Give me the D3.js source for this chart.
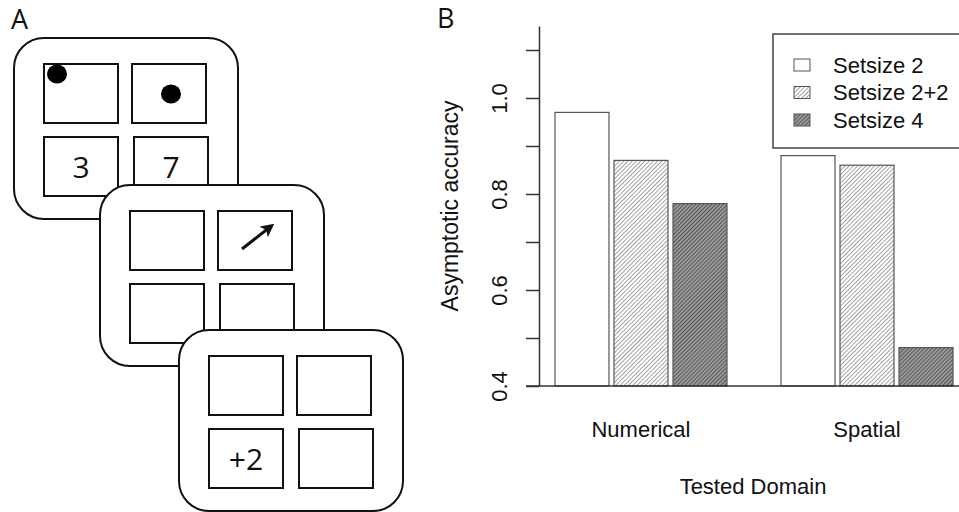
<!DOCTYPE html>
<html>
<head>
<meta charset="utf-8">
<script src="https://cdn.jsdelivr.net/npm/d3@7"></script>
<style>
  html, body { margin: 0; padding: 0; background: #fff; }
  svg { display: block; }
</style>
</head>
<body>
<svg id="chart" width="959" height="512"></svg>
<script>
// ---------- Panel B data ----------
const categories = ["Numerical", "Spatial"];
const seriesNames = ["Setsize 2", "Setsize 2+2", "Setsize 4"];
const numericalValues = [0.97, 0.87, 0.78];
const spatialValues = [0.88, 0.86, 0.48];
const yTickValues = [0.4, 0.5, 0.6, 0.7, 0.8, 0.9, 1.0, 1.1];
const yTickLabels = ["0.4", "", "0.6", "", "0.8", "", "1.0", ""];
const xTitle = "Tested Domain";
const yTitle = "Asymptotic accuracy";

// ---------- Panel A schematic ----------
const cardOrigins = [[14, 38], [100, 185], [179, 330]];
const cellCols = [30, 118];
const cellRows = [26, 99];
const cellTexts = [
  [null, null, "3", "7"],
  [null, null, null, null],
  [null, null, "+2", null]
];
const cardDots = [[[43, 36], [157, 56]], [], []];   // relative to card
const cardArrows = [[], [[142, 64, 170, 42]], []];

const svg = d3.select("#chart");
const sansB = "'Liberation Sans', Arial, Helvetica, sans-serif";
const sansA = "'Open Sans', 'Noto Sans', sans-serif";
const fsB = 22;

// ----- Panel A -----
svg.append("text").attr("x", 11).attr("y", 29).text("A")
  .attr("font-family", sansA).attr("font-size", 27).attr("fill", "#111");

svg.append("defs").append("marker")
  .attr("id", "arrowhead").attr("viewBox", "0 0 10 10")
  .attr("refX", 6).attr("refY", 5)
  .attr("markerWidth", 4.5).attr("markerHeight", 4.5)
  .attr("orient", "auto")
  .append("path").attr("d", "M0,0 L10,5 L0,10 L2.5,5 Z").attr("fill", "#111");

const cards = svg.append("g").selectAll("g.card")
  .data(cardOrigins).join("g")
  .attr("class", "card")
  .attr("transform", d => `translate(${d[0]},${d[1]})`);

cards.append("rect")
  .attr("width", 224).attr("height", 181).attr("rx", 30).attr("ry", 30)
  .attr("fill", "#fff").attr("stroke", "#111").attr("stroke-width", 2);

cards.each(function(origin, ci) {
  const g = d3.select(this);
  const cells = [];
  cellRows.forEach((ry, r) => cellCols.forEach((cx, c) => {
    cells.push({x: cx + (r === 1 && c === 1 ? 2 : 0), y: ry, t: cellTexts[ci][r * 2 + c]});
  }));
  g.selectAll("rect.cell").data(cells).join("rect")
    .attr("class", "cell")
    .attr("x", d => d.x).attr("y", d => d.y)
    .attr("width", 74).attr("height", 59)
    .attr("fill", "#fff").attr("stroke", "#111").attr("stroke-width", 2);
  g.selectAll("text.cell").data(cells.filter(d => d.t)).join("text")
    .attr("class", "cell")
    .attr("x", d => d.x + 37).attr("y", d => d.y + 40.5)
    .attr("text-anchor", "middle")
    .attr("font-family", sansA).attr("font-size", 30).attr("fill", "#111")
    .text(d => d.t);
  g.selectAll("ellipse").data(cardDots[ci]).join("ellipse")
    .attr("cx", d => d[0]).attr("cy", d => d[1])
    .attr("rx", 10).attr("ry", 9.5).attr("fill", "#000");
  g.selectAll("line.arrow").data(cardArrows[ci]).join("line")
    .attr("class", "arrow")
    .attr("x1", d => d[0]).attr("y1", d => d[1])
    .attr("x2", d => d[2]).attr("y2", d => d[3])
    .attr("stroke", "#111").attr("stroke-width", 3)
    .attr("marker-end", "url(#arrowhead)");
});

// ----- Panel B -----
svg.append("text").attr("x", 437).attr("y", 28).text("B")
  .attr("font-family", sansA).attr("font-size", 27).attr("fill", "#111");

const defs = svg.select("defs");
function hatch(id, bg, stroke, spacing, sw) {
  const p = defs.append("pattern").attr("id", id)
    .attr("patternUnits", "userSpaceOnUse")
    .attr("width", spacing).attr("height", spacing)
    .attr("patternTransform", "rotate(45)");
  p.append("rect").attr("width", spacing).attr("height", spacing).attr("fill", bg);
  p.append("line").attr("x1", 0).attr("y1", 0).attr("x2", 0).attr("y2", spacing)
    .attr("stroke", stroke).attr("stroke-width", sw);
}
hatch("hatchLight", "#fff", "#555", 3.0, 1.1);
hatch("hatchDark", "#9a9a9a", "#333", 2.8, 1.3);
const fills = ["#fff", "url(#hatchLight)", "url(#hatchDark)"];

const y = d3.scaleLinear().domain([0.4, 1.15]).range([386, 26]);
const x0 = d3.scaleBand().domain(categories).range([555, 953])
  .paddingInner(0.239).paddingOuter(0);
const x1 = d3.scaleBand().domain(seriesNames).range([0, x0.bandwidth()])
  .paddingInner(0.085).paddingOuter(0);
const color = d3.scaleOrdinal().domain(seriesNames).range(fills);

const valuesByCat = { "Numerical": numericalValues, "Spatial": spatialValues };
const groups = svg.append("g").selectAll("g.grp")
  .data(categories).join("g")
  .attr("transform", c => `translate(${x0(c)},0)`);
groups.selectAll("rect")
  .data(c => seriesNames.map((s, i) => ({s, v: valuesByCat[c][i]})))
  .join("rect")
  .attr("x", d => x1(d.s))
  .attr("y", d => y(d.v))
  .attr("width", x1.bandwidth())
  .attr("height", d => y(0.4) - y(d.v))
  .attr("fill", d => color(d.s))
  .attr("stroke", "#555").attr("stroke-width", 1.2);

// baseline
svg.append("line")
  .attr("x1", 526).attr("x2", 960)
  .attr("y1", y(0.4)).attr("y2", y(0.4))
  .attr("stroke", "#333").attr("stroke-width", 1.5);

// y axis
const yAxis = svg.append("g").attr("transform", "translate(539,0)")
  .call(d3.axisLeft(y).tickValues(yTickValues).tickSize(13).tickSizeOuter(0)
    .tickFormat((d, i) => yTickLabels[i]));
yAxis.select(".domain").attr("stroke", "#333").attr("stroke-width", 1.5);
yAxis.selectAll(".tick line").attr("stroke", "#333").attr("stroke-width", 1.5);
yAxis.selectAll(".tick text")
  .attr("transform", "rotate(-90)")
  .attr("x", 0).attr("y", -32).attr("dy", 0)
  .attr("text-anchor", "middle")
  .attr("font-family", sansB).attr("font-size", fsB).attr("fill", "#111");

// category labels
svg.append("g").selectAll("text").data(categories).join("text")
  .attr("x", c => x0(c) + x0.bandwidth() / 2).attr("y", 437)
  .attr("text-anchor", "middle")
  .attr("font-family", sansB).attr("font-size", fsB).attr("fill", "#111")
  .text(c => c);

// axis titles
svg.append("text").attr("x", 753).attr("y", 494)
  .attr("text-anchor", "middle")
  .attr("font-family", sansB).attr("font-size", fsB).attr("fill", "#111")
  .text(xTitle);
svg.append("text")
  .attr("transform", `translate(458,${(y(0.4) + y(1.15)) / 2}) rotate(-90)`)
  .attr("text-anchor", "middle")
  .attr("font-family", sansB).attr("font-size", 23).attr("fill", "#111")
  .text(yTitle);

// legend
const legend = svg.append("g");
legend.append("rect").attr("x", 773).attr("y", 34).attr("width", 220).attr("height", 114)
  .attr("fill", "#fff").attr("stroke", "#444").attr("stroke-width", 1.5);
const li = legend.selectAll("g.li").data(seriesNames).join("g")
  .attr("transform", (d, i) => `translate(794,${65 + i * 27.5})`);
li.append("rect").attr("x", 0).attr("y", -6).attr("width", 16).attr("height", 12)
  .attr("fill", d => color(d)).attr("stroke", "#555").attr("stroke-width", 1);
li.append("text").attr("x", 39).attr("y", 7.5)
  .attr("font-family", sansB).attr("font-size", fsB).attr("fill", "#111")
  .text(d => d);
</script>
</body>
</html>
